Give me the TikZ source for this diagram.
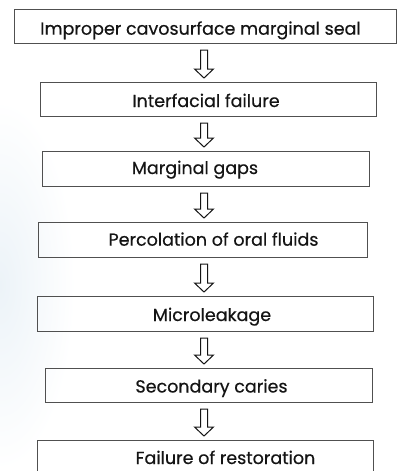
\documentclass[tikz,border=0pt]{standalone}
\usepackage{fontspec}
\setmainfont{Poppins}[FakeBold=0.4]
\usetikzlibrary{calc}
\definecolor{boxline}{RGB}{80,80,80}
\definecolor{txt}{RGB}{20,20,20}
\definecolor{bgblue}{RGB}{236,243,248}
\tikzset{
  stepbox/.style={draw=boxline, line width=1pt, inner sep=0pt, anchor=north west},
  lbl/.style={text=txt, font=\fontsize{17.5}{20}\selectfont, inner sep=0pt, anchor=base},
  hollow/.style={draw=txt, line width=1pt, fill=white, line join=miter}
}
\newcommand\harrow[2]{%
  \draw[hollow] let \p1=(#1), \p2=(#2) in
    (\x1-3.5pt,\y1) -- (\x1+3.5pt,\y1) -- (\x1+3.5pt,\y2+9pt) -- (\x1+9.5pt,\y2+9pt)
    -- (\x1,\y2) -- (\x1-9.5pt,\y2+9pt) -- (\x1-3.5pt,\y2+9pt) -- cycle;}
\begin{document}
\begin{tikzpicture}[x=1pt,y=1pt]
\path[use as bounding box, clip] (0,0) rectangle (397,-471);
\fill[white] (0,0) rectangle (397,-471);
\shade[inner color=bgblue, outer color=white] (0,-285) ellipse (75 and 185);
% boxes
\node[stepbox, minimum width=382, minimum height=34] (b1) at (14,-9) {};
\node[stepbox, minimum width=336, minimum height=34] (b2) at (40,-82) {};
\node[stepbox, minimum width=327, minimum height=35] (b3) at (42,-151) {};
\node[stepbox, minimum width=329, minimum height=35] (b4) at (38,-222) {};
\node[stepbox, minimum width=336, minimum height=35] (b5) at (37,-296) {};
\node[stepbox, minimum width=327, minimum height=34] (b6) at (45,-368) {};
\node[stepbox, minimum width=336, minimum height=40] (b7) at (37,-440) {};
% labels
\node[lbl] (t1) at (200.5,-34.7) {Improper cavosurface marginal seal};
\node[lbl] (t2) at (206,-107) {Interfacial failure};
\node[lbl] (t3) at (195,-174) {Marginal gaps};
\node[lbl] (t4) at (213.5,-245.7) {Percolation of oral fluids};
\node[lbl] (t5) at (212,-321) {Microleakage};
\node[lbl] (t6) at (211.5,-392.5) {Secondary caries};
\node[lbl] (t7) at (225.5,-464) {Failure of restoration};
% arrows
\coordinate (ax) at (204,0);
\foreach \a/\b in {b1/b2,b2/b3,b3/b4,b4/b5,b5/b6,b6/b7}{
  \coordinate (s) at ($(\a.south -| ax)+(0,-6)$);
  \coordinate (e) at ($(\b.north -| ax)+(0,4)$);
  \harrow{s}{e}
}
\end{tikzpicture}
\end{document}
